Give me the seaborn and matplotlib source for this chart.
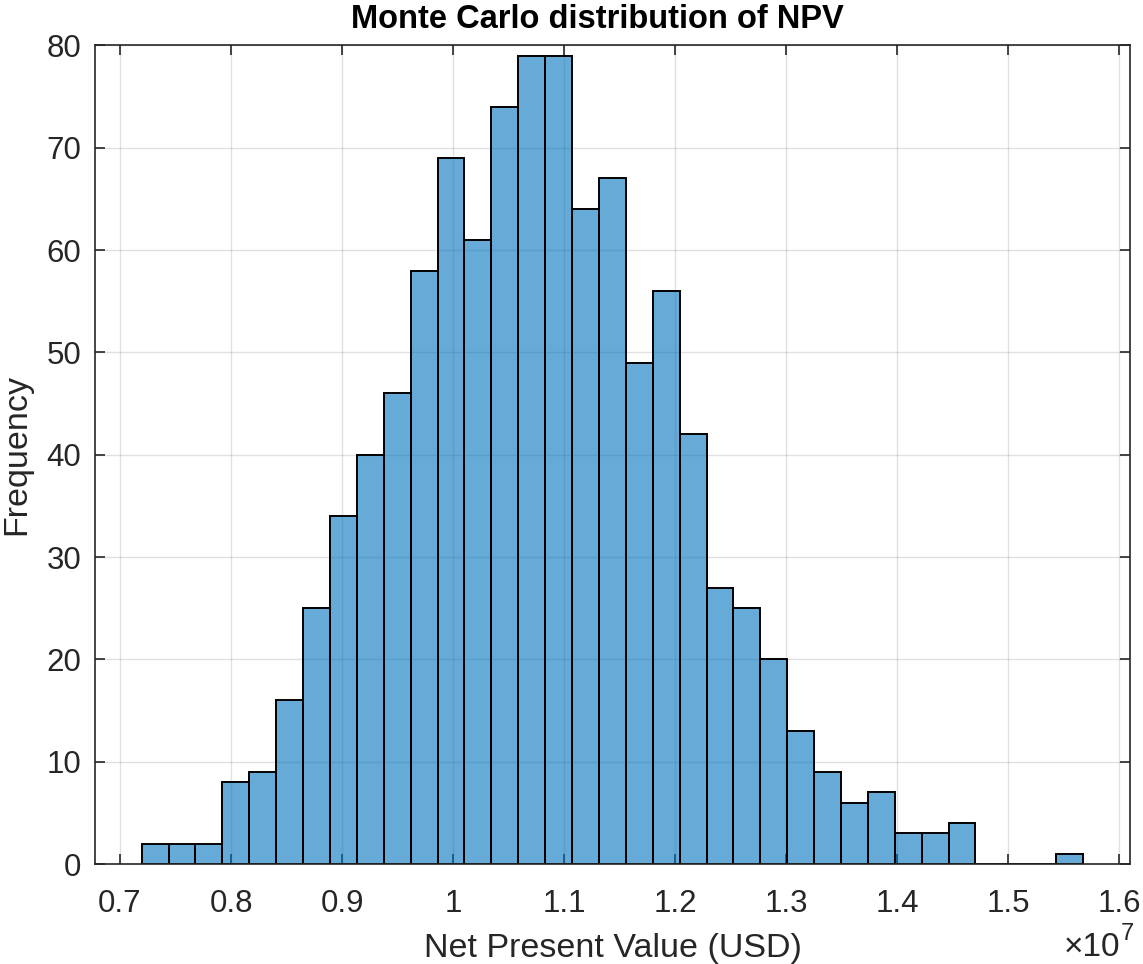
import numpy as np
import pandas as pd
import matplotlib
matplotlib.use("Agg")
import matplotlib.pyplot as plt
import seaborn as sns

# Histogram data
counts = [2, 2, 2, 8, 9, 16, 25, 34, 40, 46, 58, 69, 61, 74, 79, 79, 64, 67,
          49, 56, 42, 27, 25, 20, 13, 9, 6, 7, 3, 3, 4, 0, 0, 0, 1]
first_edge = 7.1955e6
bin_width = 2.4222e5
x_ticks = [0.7, 0.8, 0.9, 1.0, 1.1, 1.2, 1.3, 1.4, 1.5, 1.6]
x_tick_labels = ["0.7", "0.8", "0.9", "1", "1.1", "1.2", "1.3", "1.4", "1.5", "1.6"]
y_ticks = [0, 10, 20, 30, 40, 50, 60, 70, 80]

edges = first_edge + bin_width * np.arange(len(counts) + 1)
centers = (edges[:-1] + edges[1:]) / 2
df = pd.DataFrame({"npv": centers, "count": counts})

sns.set_style("white")
plt.rcParams["font.family"] = ["Liberation Sans", "DejaVu Sans"]

W, H = 1143, 964
fig = plt.figure(figsize=(W / 100, H / 100), dpi=100)
ax = fig.add_axes([95 / W, 1 - 864 / H, (1130 - 95) / W, (864 - 45.4) / H])

axcol = "#262626"
ax.set_axisbelow(True)
ax.grid(True, color="#000000", alpha=0.12, linewidth=1.0)

sns.histplot(data=df, x="npv", weights="count", binwidth=bin_width,
             binrange=(float(edges[0]), float(edges[-1])), ax=ax,
             color=(0.0, 0.447, 0.741), alpha=0.6, edgecolor="black",
             linewidth=1.4)

ax.set_xlim(0.6775e7, 1.6096e7)
ax.set_ylim(0, 80)
ax.set_xticks([t * 1e7 for t in x_ticks])
ax.set_xticklabels(x_tick_labels)
ax.set_yticks(y_ticks)
ax.tick_params(axis="both", direction="in", length=7, width=1.2, color=axcol,
               labelsize=22.5, labelcolor=axcol, top=True, right=True,
               bottom=True, left=True)
ax.tick_params(axis="x", pad=18)
ax.tick_params(axis="y", pad=10)
for s in ax.spines.values():
    s.set_visible(True)
    s.set_color(axcol)
    s.set_linewidth(1.2)

ax.set_xlabel("Net Present Value (USD)", fontsize=24.5, color=axcol, labelpad=10)
ax.set_ylabel("Frequency", fontsize=24.5, color=axcol, labelpad=10)
ax.set_title("Monte Carlo distribution of NPV", fontsize=23.5, fontweight="bold",
             color="black", pad=12.5, x=(597 - 95) / (1130 - 95))

# exponent marker of the x axis
fig.text(1120 / W, 1 - 956 / H, "×10", ha="right", va="baseline",
         fontsize=24, color=axcol)
fig.text(1121 / W, 1 - 940 / H, "7", ha="left", va="baseline",
         fontsize=17, color=axcol)

fig.savefig("out.png", dpi=100, facecolor="white")
